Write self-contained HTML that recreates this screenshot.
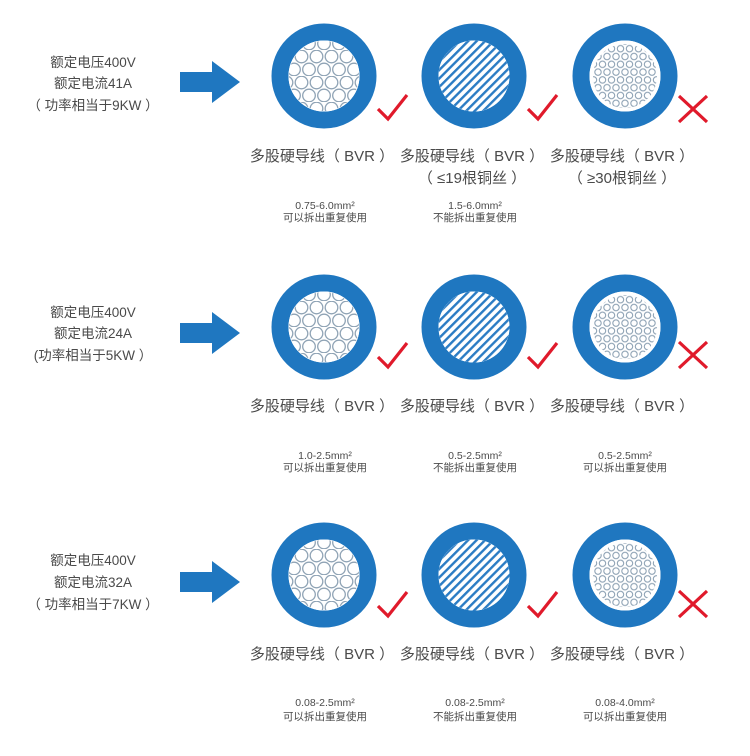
<!DOCTYPE html>
<html><head><meta charset="utf-8"><style>
html,body{margin:0;padding:0;background:#fff}
svg{display:block}
text{font-family:"Liberation Sans","Noto Sans CJK SC",sans-serif;fill:#4a4a4a}
</style></head><body>
<svg width="750" height="756" viewBox="0 0 750 756" xmlns="http://www.w3.org/2000/svg">
<defs>
<pattern id="pBig" width="15" height="26" patternUnits="userSpaceOnUse">
<g fill="none" stroke="#8fa3b5" stroke-width="1.3">
<circle cx="7.5" cy="6.5" r="6.3"/><circle cx="0" cy="19.5" r="6.3"/><circle cx="15" cy="19.5" r="6.3"/>
</g></pattern>
<pattern id="pSmall" width="9" height="15.6" patternUnits="userSpaceOnUse">
<g fill="none" stroke="#8fa3b5" stroke-width="1.1">
<circle cx="4.5" cy="3.9" r="3.2"/><circle cx="0" cy="11.7" r="3.2"/><circle cx="9" cy="11.7" r="3.2"/>
</g></pattern>
<pattern id="pStripe" width="6" height="6" patternUnits="userSpaceOnUse" patternTransform="rotate(-45)">
<rect width="6" height="2.4" fill="#2b7cc4"/></pattern>
<g id="c1"><circle r="44" fill="none" stroke="#1f77c0" stroke-width="17"/><circle r="35.5" fill="#fff"/><circle r="35" fill="url(#pBig)"/></g>
<g id="c2"><circle r="44" fill="none" stroke="#1f77c0" stroke-width="17"/><circle r="35.5" fill="#fff"/><circle r="35.5" fill="url(#pStripe)"/></g>
<g id="c3"><circle r="44" fill="none" stroke="#1f77c0" stroke-width="17"/><circle r="35.5" fill="#fff"/><circle r="32" fill="url(#pSmall)"/></g>
<path id="chk" d="M0 14 L10 24 L29 0" fill="none" stroke="#e01a2b" stroke-width="3.2"/>
<path id="x" d="M0 0 L28 26 M28 0 L0 26" fill="none" stroke="#e01a2b" stroke-width="3.2"/>
<path id="arr" d="M0 -10 L32 -10 L32 -21 L60 0 L32 21 L32 10 L0 10 Z" fill="#1f77c0"/>
</defs>

<g font-size="13.5" text-anchor="middle">
<text x="93" y="67">额定电压400V</text>
<text x="93" y="88">额定电流41A</text>
<text x="93" y="110">（ 功率相当于9KW ）</text>
</g>
<use href="#arr" x="180" y="82"/>
<use href="#c1" x="324" y="76"/><use href="#c2" x="474" y="76"/><use href="#c3" x="625" y="76"/>
<use href="#chk" x="378" y="95"/><use href="#chk" x="528" y="95"/><use href="#x" x="679" y="96"/>
<g font-size="15" text-anchor="middle">
<text x="322" y="161">多股硬导线（ BVR ）</text>
<text x="472" y="161">多股硬导线（ BVR ）</text>
<text x="622" y="161">多股硬导线（ BVR ）</text>
<text x="472" y="183">（ ≤19根铜丝 ）</text>
<text x="622" y="183">（ ≥30根铜丝 ）</text>
</g>
<g font-size="10.5" text-anchor="middle">
<text x="325" y="209">0.75-6.0mm²</text><text x="325" y="221">可以拆出重复使用</text>
<text x="475" y="209">1.5-6.0mm²</text><text x="475" y="221">不能拆出重复使用</text>
</g>

<g font-size="13.5" text-anchor="middle">
<text x="93" y="317">额定电压400V</text>
<text x="93" y="338">额定电流24A</text>
<text x="93" y="360">(功率相当于5KW ）</text>
</g>
<use href="#arr" x="180" y="333"/>
<use href="#c1" x="324" y="327"/><use href="#c2" x="474" y="327"/><use href="#c3" x="625" y="327"/>
<use href="#chk" x="378" y="343"/><use href="#chk" x="528" y="343"/><use href="#x" x="679" y="342"/>
<g font-size="15" text-anchor="middle">
<text x="322" y="411">多股硬导线（ BVR ）</text>
<text x="472" y="411">多股硬导线（ BVR ）</text>
<text x="622" y="411">多股硬导线（ BVR ）</text>
</g>
<g font-size="10.5" text-anchor="middle">
<text x="325" y="459">1.0-2.5mm²</text><text x="325" y="471">可以拆出重复使用</text>
<text x="475" y="459">0.5-2.5mm²</text><text x="475" y="471">不能拆出重复使用</text>
<text x="625" y="459">0.5-2.5mm²</text><text x="625" y="471">可以拆出重复使用</text>
</g>

<g font-size="13.5" text-anchor="middle">
<text x="93" y="565">额定电压400V</text>
<text x="93" y="587">额定电流32A</text>
<text x="93" y="609">（ 功率相当于7KW ）</text>
</g>
<use href="#arr" x="180" y="582"/>
<use href="#c1" x="324" y="575"/><use href="#c2" x="474" y="575"/><use href="#c3" x="625" y="575"/>
<use href="#chk" x="378" y="592"/><use href="#chk" x="528" y="592"/><use href="#x" x="679" y="591"/>
<g font-size="15" text-anchor="middle">
<text x="322" y="659">多股硬导线（ BVR ）</text>
<text x="472" y="659">多股硬导线（ BVR ）</text>
<text x="622" y="659">多股硬导线（ BVR ）</text>
</g>
<g font-size="10.5" text-anchor="middle">
<text x="325" y="706">0.08-2.5mm²</text><text x="325" y="720">可以拆出重复使用</text>
<text x="475" y="706">0.08-2.5mm²</text><text x="475" y="720">不能拆出重复使用</text>
<text x="625" y="706">0.08-4.0mm²</text><text x="625" y="720">可以拆出重复使用</text>
</g>
</svg>
</body></html>
